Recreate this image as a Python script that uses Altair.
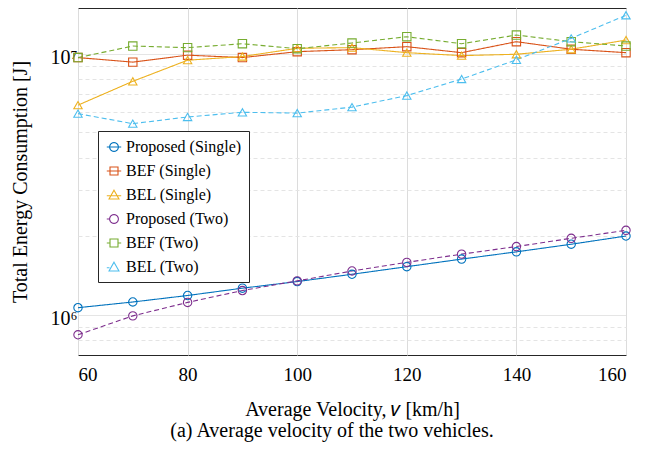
import math
import altair as alt
import pandas as pd

velocity = [60, 70, 80, 90, 100, 110, 120, 130, 140, 150, 160]
series_names = ["Proposed (Single)", "BEF (Single)", "BEL (Single)",
                "Proposed (Two)", "BEF (Two)", "BEL (Two)"]
proposed_single = [1.063e6, 1.118e6, 1.184e6, 1.263e6, 1.339e6, 1.428e6, 1.527e6, 1.633e6, 1.741e6, 1.862e6, 2.002e6]
bef_single = [9.68e6, 9.30e6, 9.89e6, 9.68e6, 1.02e7, 1.038e7, 1.066e7, 1.011e7, 1.114e7, 1.042e7, 1.011e7]
bel_single = [6.36e6, 7.85e6, 9.46e6, 9.77e6, 1.051e7, 1.057e7, 1.011e7, 9.85e6, 9.97e6, 1.042e7, 1.13e7]
proposed_two = [8.37e5, 9.89e5, 1.114e6, 1.237e6, 1.347e6, 1.47e6, 1.586e6, 1.706e6, 1.824e6, 1.962e6, 2.105e6]
bef_two = [9.68e6, 1.072e7, 1.057e7, 1.094e7, 1.047e7, 1.101e7, 1.164e7, 1.094e7, 1.181e7, 1.114e7, 1.072e7]
bel_two = [5.90e6, 5.40e6, 5.73e6, 5.97e6, 5.93e6, 6.25e6, 6.92e6, 8.01e6, 9.49e6, 1.147e7, 1.407e7]

x_ticks = [60, 80, 100, 120, 140, 160]
y_grid = [8e5, 9e5, 1e6, 2e6, 3e6, 4e6, 5e6, 6e6, 7e6, 8e6, 9e6, 1e7]

colors = ["#0072BD", "#D95319", "#EDB120", "#7E2F8E", "#77AC30", "#4DBEEE"]
shapes = ["circle", "square", "triangle-up", "circle", "square", "triangle-up"]
dashes = [[1, 0], [1, 0], [1, 0], [5, 3], [5, 3], [5, 3]]


# legend symbols (style only): marker outline with a short line through / beside it
def ring(r, n=20):
    pts = [(r * math.cos(2 * math.pi * k / n), r * math.sin(2 * math.pi * k / n)) for k in range(n)]
    return "M" + " L".join(f"{x:.3f},{y:.3f}" for x, y in pts) + " Z"


CIRCLE_SOLID = "M-0.9,0 L0.9,0 " + ring(0.55)
SQUARE_SOLID = "M-0.9,0 L0.9,0 M-0.5,-0.5 L0.5,-0.5 L0.5,0.5 L-0.5,0.5 Z"
TRI_SOLID = "M-0.9,0.1 L0.9,0.1 M0,-0.6 L0.62,0.5 L-0.62,0.5 Z"
CIRCLE_DASH = "M-0.9,0 L-0.55,0 " + ring(0.55)
SQUARE_DASH = "M-0.9,0 L-0.5,0 M0.5,0 L0.9,0 M-0.5,-0.5 L0.5,-0.5 L0.5,0.5 L-0.5,0.5 Z"
TRI_DASH = "M-0.9,0.1 L-0.56,0.1 M0,-0.6 L0.62,0.5 L-0.62,0.5 Z"
legend_shapes = [CIRCLE_SOLID, SQUARE_SOLID, TRI_SOLID, CIRCLE_DASH, SQUARE_DASH, TRI_DASH]

all_values = [proposed_single, bef_single, bel_single, proposed_two, bef_two, bel_two]
rows = []
for name, vals in zip(series_names, all_values):
    for v, e in zip(velocity, vals):
        rows.append({"v": v, "energy": e, "series": name})
df = pd.DataFrame(rows)

FONT = "Liberation Serif"
MAJOR = "datum.value == 1000000 || datum.value == 10000000"

x_enc = alt.X("v:Q", scale=alt.Scale(domain=[60, 160], nice=False),
              axis=alt.Axis(values=x_ticks, title="Average Velocity, 𝑣 [km/h]",
                            ticks=False, domain=False, labelPadding=10, titlePadding=15,
                            labelFontSize=19, titleFontSize=20,
                            gridColor="#dcdcdc", gridWidth=1))
y_enc = alt.Y("energy:Q", scale=alt.Scale(type="log", domain=[7e5, 1.5e7], nice=False),
              axis=alt.Axis(values=y_grid, title="Total Energy Consumption [J]",
                            labelExpr="datum.value == 1000000 ? '10⁶' : (datum.value == 10000000 ? '10⁷' : '')",
                            ticks=False, domain=False, labelPadding=1, titlePadding=20,
                            labelFontSize=20, titleFontSize=20, labelOffset=4,
                            gridColor={"condition": {"test": MAJOR, "value": "#dcdcdc"}, "value": "#e4e4e4"},
                            gridDash={"condition": {"test": MAJOR, "value": [1, 0]}, "value": [4, 3]}))

color_scale = alt.Scale(domain=series_names, range=colors)

lines = alt.Chart(df).mark_line(strokeWidth=1.1).encode(
    x=x_enc, y=y_enc,
    color=alt.Color("series:N", scale=color_scale, legend=None),
    strokeDash=alt.StrokeDash("series:N", scale=alt.Scale(domain=series_names, range=dashes), legend=None),
)

points = alt.Chart(df).mark_point(filled=False, size=70, strokeWidth=1.1, opacity=1).encode(
    x=x_enc, y=y_enc,
    color=alt.Color("series:N", scale=color_scale, legend=None),
    shape=alt.Shape("series:N", scale=alt.Scale(domain=series_names, range=shapes), legend=None),
)

legend = alt.Legend(title=None, orient="none", legendX=20, legendY=123, direction="vertical",
                    symbolOpacity=1, labelExpr="datum.label + '   '")
legend_layer = alt.Chart(df).mark_point(filled=False, size=256, strokeWidth=1.1, opacity=0).encode(
    x=x_enc, y=y_enc,
    color=alt.Color("series:N", scale=color_scale, legend=legend),
    shape=alt.Shape("series:N", scale=alt.Scale(domain=series_names, range=legend_shapes), legend=legend),
)

chart = alt.layer(lines, points, legend_layer).resolve_scale(
    color="independent", shape="independent", strokeDash="independent"
).resolve_legend(color="independent", shape="independent").properties(
    width=548, height=347,
    autosize=alt.AutoSizeParams(type="none"),
    padding={"left": 70, "top": 0, "right": 20, "bottom": 88},
    title=alt.TitleParams("(a) Average velocity of the two vehicles.", orient="bottom",
                          anchor="middle", dx=-20, offset=2, font=FONT, fontSize=20,
                          fontWeight="normal", color="black"),
).configure_view(stroke="#262626", strokeWidth=1).configure_axis(
    labelFont=FONT, titleFont=FONT,
    labelColor="black", titleColor="black", titleFontWeight="normal",
).configure_legend(
    labelFont=FONT, labelFontSize=16, labelColor="black",
    strokeColor="#262626", fillColor="white", padding=7, rowPadding=7,
    symbolSize=256, symbolStrokeWidth=1.1, labelOffset=3, cornerRadius=0,
)

chart.save("out.html", embed_options={"renderer": "svg", "actions": False})
